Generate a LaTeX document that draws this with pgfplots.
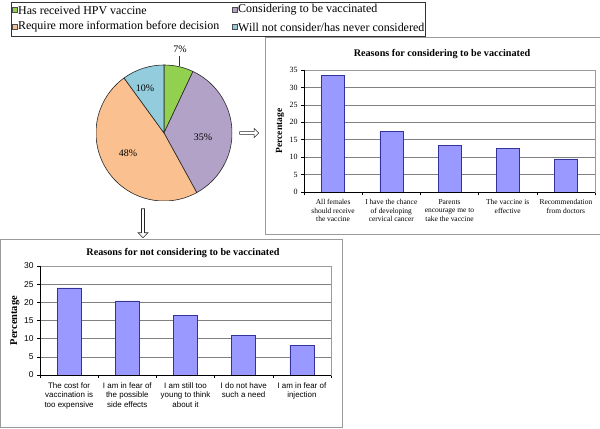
\documentclass[border=0pt]{standalone}
\usepackage{fontspec}
\setmainfont{Liberation Serif}
\newfontfamily\arialf{Liberation Sans}
\usepackage{pgfplots}
\pgfplotsset{compat=1.18}
\usetikzlibrary{shapes.arrows}

\definecolor{pgreen}{HTML}{92D050}
\definecolor{ppurple}{HTML}{B3A2C7}
\definecolor{porange}{HTML}{FAC090}
\definecolor{pblue}{HTML}{93CDDD}
\definecolor{barfill}{HTML}{9999FF}
\definecolor{baredge}{HTML}{333399}
\definecolor{framegray}{HTML}{9A9A9A}

\newcommand{\piewedge}[3]{%
  \filldraw[fill=#3,draw=black!85,line width=0.6bp]
    (axis cs:0,0) -- (axis cs:{68*cos(90-3.6*(#1))},{68*sin(90-3.6*(#1))})
    arc[start angle={90-3.6*(#1)}, end angle={90-3.6*(#1+#2)}, radius=68bp] -- cycle;}

\pgfplotsset{barchart/.style={
  scale only axis, width=291bp,
  xmin=-0.5, xmax=4.5, ymin=0,
  xtick={0,...,4},
  minor xtick={-0.5,0.5,1.5,2.5,3.5,4.5},
  tick pos=left, tick align=outside,
  major tick length=3bp, minor tick length=3bp,
  major x tick style={draw=none},
  every tick/.style={black, line width=0.6bp},
  ymajorgrids,
  major grid style={gray, line width=0.6bp},
  axis line style={framegray, line width=0.6bp},
  ybar, bar width=23bp,
  /pgf/number format/assume math mode=true,
  xticklabel style={align=center, anchor=north, yshift=-1bp},
  every axis y label/.style={rotate=90, anchor=center, font=\bfseries\fontsize{10}{12}\selectfont},
}}

\begin{document}
\begin{tikzpicture}[x=1bp,y=1bp]
\useasboundingbox (0,0) rectangle (600,428);

% ---------- legend ----------
\draw[black!80, line width=0.8bp] (11,392) rectangle (425,426);
\foreach \xx/\yy/\cc/\lbl in {14.5/418/pgreen/{Has received HPV vaccine},
  234.5/418/ppurple/{Considering to be vaccinated},
  14.5/401/porange/{Require more information before decision},
  234.5/401/pblue/{Will not consider/has never considered}}{
  \filldraw[fill=\cc, draw=black!70, line width=0.5bp] (\xx-2.3,\yy-2.3) rectangle (\xx+2.3,\yy+2.3);
  \node[anchor=west, inner sep=0pt, font=\fontsize{12}{14}\selectfont] at (\xx+3.5,\yy) {\lbl};
}

% ---------- pie ----------
\begin{axis}[at={(164bp,295bp)}, anchor=center, scale only axis,
  width=136bp, height=136bp, xmin=-68, xmax=68, ymin=-68, ymax=68, hide axis]
  \piewedge{0}{7}{pgreen}
  \piewedge{7}{35}{ppurple}
  \piewedge{42}{48}{porange}
  \piewedge{90}{10}{pblue}
\end{axis}
\draw[black!80, line width=0.6bp] (179,362) -- (179,372);
\node[font=\fontsize{10}{12}\selectfont, inner sep=0pt] at (180,379) {7\%};
\node[font=\fontsize{10}{12}\selectfont, inner sep=0pt] at (145,340) {10\%};
\node[font=\fontsize{10}{12}\selectfont, inner sep=0pt] at (203,291) {35\%};
\node[font=\fontsize{10}{12}\selectfont, inner sep=0pt] at (128,275) {48\%};

% arrows
\node[single arrow, draw=black!85, fill=white, line width=0.6bp, minimum height=19bp,
  minimum width=9bp, single arrow head extend=2.5bp, inner sep=0.8bp] at (248.5,295) {};
\node[single arrow, draw=black!85, fill=white, line width=0.6bp, minimum height=29bp,
  minimum width=10bp, single arrow head extend=2.5bp, inner sep=0.8bp, rotate=-90] at (143,205.5) {};

% ---------- right chart ----------
\draw[framegray, line width=0.8bp] (265,194) rectangle (606,391);
\node[font=\bfseries\fontsize{10.2}{12}\selectfont] at (442,374) {Reasons for considering to be vaccinated};
\begin{axis}[barchart, at={(304bp,236bp)}, anchor=south west, height=122bp,
  ymax=35, ytick={0,5,...,35},
  yticklabel style={font=\fontsize{8}{9}\selectfont},
  xticklabel style={font=\fontsize{7.5}{8.5}\selectfont},
  xticklabels={{All females\\should receive\\the vaccine},
    {I have the chance\\of developing\\cervical cancer},
    {Parents\\encourage me to\\take the vaccine},
    {The vaccine is\\effective},
    {Recommendation\\from doctors}},
  ylabel={Percentage},
  every axis y label/.append style={at={(axis description cs:-0.082,0.5)}, font=\bfseries\fontsize{9.5}{11}\selectfont},
]
  \addplot[fill=barfill, draw=baredge, line width=0.6bp] coordinates
    {(0,33.5) (1,17.3) (2,13.3) (3,12.4) (4,9.5)};
  \draw[black, line width=0.6bp] (rel axis cs:0,1) -- (rel axis cs:0,0) -- (rel axis cs:1,0);
\end{axis}

% ---------- bottom chart ----------
\draw[framegray, line width=0.8bp] (0.6,1) rectangle (342,189);
\node[font=\bfseries\fontsize{10.2}{12}\selectfont] at (183,175) {Reasons for not considering to be vaccinated};
\begin{axis}[barchart, at={(40bp,53bp)}, anchor=south west, height=109bp,
  ymax=30, ytick={0,5,...,30}, bar width=24bp,
  yticklabel style={font=\arialf\fontsize{8.5}{9.5}\selectfont},
  xticklabel style={font=\arialf\fontsize{8}{9.5}\selectfont},
  xticklabels={{The cost for\\vaccination is\\too expensive},
    {I am in fear of\\the possible\\side effects},
    {I am still too\\young to think\\about it},
    {I do not have\\such a need},
    {I am in fear of\\injection}},
  ylabel={Percentage},
  every axis y label/.append style={at={(axis description cs:-0.086,0.5)}, font=\bfseries\fontsize{10.5}{12}\selectfont},
]
  \addplot[fill=barfill, draw=baredge, line width=0.6bp] coordinates
    {(0,24.0) (1,20.4) (2,16.4) (3,10.8) (4,8.2)};
  \draw[black, line width=0.6bp] (rel axis cs:0,1) -- (rel axis cs:0,0) -- (rel axis cs:1,0);
\end{axis}
\end{tikzpicture}
\end{document}
